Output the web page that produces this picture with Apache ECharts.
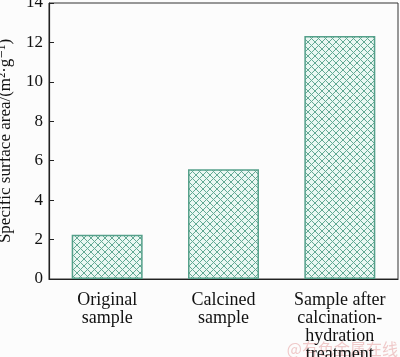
<!DOCTYPE html>
<html>
<head>
<meta charset="utf-8">
<script src="https://cdn.jsdelivr.net/npm/echarts@6/dist/echarts.min.js"></script>
<style>
html,body{margin:0;padding:0;background:#fcfcfc;}
#c{width:400px;height:357px;}
</style>
</head>
<body>
<div id="c"></div>
<script>
var categories = ["Original\nsample", "Calcined\nsample", "Sample after\ncalcination-\nhydration\ntreatment"];
var values = [2.25, 5.57, 12.33];
var yTicks = [0, 2, 4, 6, 8, 10, 12, 14];

function hatch() {
  var s = 7;
  var cv = document.createElement('canvas');
  cv.width = s; cv.height = s;
  var ctx = cv.getContext('2d');
  ctx.fillStyle = '#eaf7f2';
  ctx.fillRect(0, 0, s, s);
  ctx.strokeStyle = '#62a893';
  ctx.lineWidth = 1;
  ctx.beginPath();
  ctx.moveTo(0, 0); ctx.lineTo(s, s);
  ctx.moveTo(s, 0); ctx.lineTo(0, s);
  ctx.stroke();
  return cv;
}

var chart = echarts.init(document.getElementById('c'));
var font = '"Liberation Serif", "DejaVu Serif", serif';
chart.setOption({
  backgroundColor: '#fcfcfc',
  animation: false,
  grid: { left: 49, right: 2, top: 3, bottom: 78, outerBoundsMode: 'none', containLabel: false,
    show: true, borderColor: '#333', borderWidth: 1, backgroundColor: 'transparent' },
  xAxis: {
    type: 'category',
    data: categories,
    axisLine: { lineStyle: { color: '#222', width: 1.2 } },
    axisTick: { show: false },
    axisLabel: { color: '#111', fontFamily: font, fontSize: 18, lineHeight: 18, margin: 12, interval: 0 }
  },
  yAxis: {
    type: 'value',
    min: 0, max: 14, interval: 2,
    name: 'Specific surface area/(m\u00B2\u00B7g\u207B\u00B9)',
    nameLocation: 'middle',
    nameGap: 35,
    nameTextStyle: { color: '#111', fontFamily: font, fontSize: 17 },
    axisLine: { show: true, lineStyle: { color: '#222', width: 1.2 } },
    axisTick: { show: true, inside: true, length: 5, lineStyle: { color: '#222' } },
    splitLine: { show: false },
    axisLabel: { color: '#111', fontFamily: font, fontSize: 17, margin: 6,
      formatter: function (v) { return yTicks.indexOf(v) >= 0 ? String(v) : ''; } }
  },
  series: [{
    type: 'bar',
    data: values,
    barWidth: '61%',
    itemStyle: {
      color: { image: hatch(), repeat: 'repeat' },
      borderColor: '#55a08a',
      borderWidth: 1.5
    }
  }],
  graphic: [{
    type: 'text', right: 2, bottom: 0,
    style: { text: '@有色金属在线', fill: 'rgba(225,140,140,0.45)', font: '16px "Noto Sans CJK SC"' },
    z: -1
  }]
});
</script>
</body>
</html>
